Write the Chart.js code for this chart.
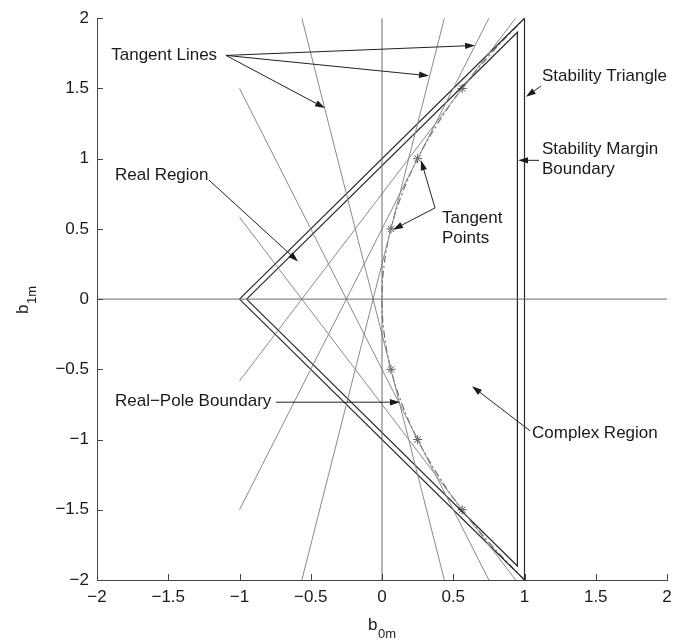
<!DOCTYPE html>
<html lang="en">
<head>
<meta charset="UTF-8">
<title>Stability Triangle</title>
<script src="https://cdn.jsdelivr.net/npm/chart.js"></script>
<style>
    body { margin: 0; background: #fff; }
    canvas { display: block; }
</style>
</head>
<body>
<canvas id="chart_region" width="694" height="643"></canvas>
<script>
// Stability triangle and margin boundary (b0m, b1m), closed outlines
const triangleB0 = [-1, 1, 1, -1];
const triangleB1 = [0, 2, -2, 0];
const marginB0 = [-0.95, 0.95, 0.95, -0.95];
const marginB1 = [0, 1.9, -1.9, 0];

// Real-pole boundary
const boundaryB1 = [-2, -1.75, -1.5, -1.25, -1, -0.75, -0.5, -0.25, 0, 0.25, 0.5, 0.75, 1, 1.25, 1.5, 1.75, 2];
const boundaryB0 = [1, 0.766, 0.5625, 0.391, 0.25, 0.141, 0.0625, 0.016, 0, 0.016, 0.0625, 0.141, 0.25, 0.391, 0.5625, 0.766, 1];

// Tangent lines, one segment each
const tangentFromB0 = [-1, -1, -0.5625, 0.4375, 0.75, 0.9375];
const tangentFromB1 = [0.583, 1.5, 2, 2, 2, 2];
const tangentToB0 = [0.9375, 0.75, 0.4375, -0.5625, -1, -1];
const tangentToB1 = [-2, -2, -2, -2, -1.5, -0.583];

// Tangent points (asterisks)
const pointB0 = [0.5625, 0.25, 0.0625, 0.0625, 0.25, 0.5625];
const pointB1 = [1.5, 1, 0.5, -0.5, -1, -1.5];

// Axis ticks
const tickValues = [-2, -1.5, -1, -0.5, 0, 0.5, 1, 1.5, 2];

// Annotations (text left edge / middle, in data units)
const labelText = ['Tangent Lines', 'Stability Triangle', 'Stability Margin\nBoundary', 'Real Region',
                   'Tangent\nPoints', 'Real\u2212Pole Boundary', 'Complex Region'];
const labelB0 = [-1.9, 1.123, 1.123, -1.874, 0.421, -1.874, 1.053];
const labelB1 = [1.735, 1.587, 1.065, 0.882, 0.578, -0.727, -0.959];

// Arrows from the labels to what they name
const arrowFromB0 = [-1.095, -1.095, -1.095, 1.116, 1.102, -1.214, 0.372, 0.372, -0.744, 1.039];
const arrowFromB1 = [1.735, 1.735, 1.735, 1.517, 0.988, 0.847, 0.649, 0.649, -0.734, -0.938];
const arrowToB0 = [0.653, 0.33, -0.4, 1.01, 0.955, -0.589, 0.274, 0.077, 0.126, 0.632];
const arrowToB1 = [1.806, 1.59, 1.36, 1.44, 0.988, 0.268, 0.988, 0.494, -0.734, -0.621];

const FONT = '"Liberation Sans", Arial, sans-serif';
const zip = (xs, ys) => xs.map((v, i) => ({ x: v, y: ys[i] }));
const fmt = v => (v < 0 ? '\u2212' + Math.abs(v) : String(v));

const datasets = [
    { data: [{ x: 0, y: -2 }, { x: 0, y: 2 }], borderColor: '#6a6a6a', borderWidth: 1 },
    { data: [{ x: -2, y: 0 }, { x: 2, y: 0 }], borderColor: '#6a6a6a', borderWidth: 1 }
];
tangentFromB0.forEach((b0, i) => {
    datasets.push({
        data: [{ x: b0, y: tangentFromB1[i] }, { x: tangentToB0[i], y: tangentToB1[i] }],
        borderColor: '#8a8a8a', borderWidth: 1
    });
});
datasets.push({ data: zip(triangleB0, triangleB1), borderColor: '#2a2a2a', borderWidth: 1.2 });
datasets.push({ data: zip(marginB0, marginB1), borderColor: '#2a2a2a', borderWidth: 1.2 });
datasets.push({ data: zip(boundaryB0, boundaryB1), borderColor: '#707070', borderWidth: 1.2,
                borderDash: [7, 3, 2, 3], tension: 0.4 });
datasets.push({ data: zip(pointB0, pointB1), showLine: false, pointStyle: 'star', pointRadius: 4.5,
                pointBorderColor: '#555', pointBorderWidth: 1 });
datasets.forEach(d => {
    if (d.showLine === undefined) d.showLine = true;
    if (d.pointRadius === undefined) d.pointRadius = 0;
    d.fill = false;
});

// Inward tick marks on the left and bottom axes
const tickPlugin = {
    id: 'inwardTicks',
    afterDraw(chart) {
        const { ctx, chartArea: a, scales: { x, y } } = chart;
        ctx.save();
        ctx.strokeStyle = '#444';
        ctx.lineWidth = 1;
        ctx.beginPath();
        tickValues.forEach(v => {
            const px = Math.round(x.getPixelForValue(v)) + 0.5;
            ctx.moveTo(px, a.bottom); ctx.lineTo(px, a.bottom - 6);
            const py = Math.round(y.getPixelForValue(v)) + 0.5;
            ctx.moveTo(a.left, py); ctx.lineTo(a.left + 6, py);
        });
        ctx.stroke();
        ctx.restore();
    }
};

// Axis titles with subscripts
const titlePlugin = {
    id: 'subTitles',
    afterDraw(chart) {
        const { ctx, chartArea: a } = chart;
        const cx = (a.left + a.right) / 2;
        ctx.save();
        ctx.fillStyle = '#1a1a1a';
        ctx.textBaseline = 'alphabetic';
        ctx.textAlign = 'left';
        ctx.font = '17px ' + FONT;
        ctx.fillText('b', cx - 14, a.bottom + 50);
        ctx.font = '13px ' + FONT;
        ctx.fillText('0m', cx - 4, a.bottom + 58);
        ctx.translate(28, (a.top + a.bottom) / 2);
        ctx.rotate(-Math.PI / 2);
        ctx.font = '17px ' + FONT;
        ctx.fillText('b', -15, 0);
        ctx.font = '13px ' + FONT;
        ctx.fillText('1m', -5, 8);
        ctx.restore();
    }
};

// Text labels and arrows
const annotationPlugin = {
    id: 'annotations',
    afterDraw(chart) {
        const { ctx, scales: { x, y } } = chart;
        ctx.save();
        ctx.fillStyle = '#1a1a1a';
        ctx.font = '17px ' + FONT;
        ctx.textBaseline = 'middle';
        ctx.textAlign = 'left';
        labelText.forEach((txt, i) => {
            const px = x.getPixelForValue(labelB0[i]);
            const py = y.getPixelForValue(labelB1[i]);
            txt.split('\n').forEach((line, k) => ctx.fillText(line, px, py + k * 20));
        });
        ctx.strokeStyle = '#222';
        ctx.lineWidth = 1;
        arrowFromB0.forEach((b0, i) => {
            const x0 = x.getPixelForValue(b0), y0 = y.getPixelForValue(arrowFromB1[i]);
            const x1 = x.getPixelForValue(arrowToB0[i]), y1 = y.getPixelForValue(arrowToB1[i]);
            const ang = Math.atan2(y1 - y0, x1 - x0);
            const len = 10, half = 3.2;
            const bx = x1 - len * Math.cos(ang), by = y1 - len * Math.sin(ang);
            ctx.beginPath();
            ctx.moveTo(x0, y0); ctx.lineTo(bx, by);
            ctx.stroke();
            ctx.beginPath();
            ctx.moveTo(x1, y1);
            ctx.lineTo(bx + half * Math.sin(ang), by - half * Math.cos(ang));
            ctx.lineTo(bx - half * Math.sin(ang), by + half * Math.cos(ang));
            ctx.closePath();
            ctx.fill();
        });
        ctx.restore();
    }
};

const axisOpts = {
    type: 'linear', min: -2, max: 2,
    grid: { display: false, drawTicks: false },
    border: { display: true, color: '#444', width: 1 },
    ticks: {
        stepSize: 0.5, padding: 8, color: '#1a1a1a',
        font: { family: FONT, size: 17 },
        callback: v => fmt(v)
    }
};

new Chart(document.getElementById('chart_region').getContext('2d'), {
    type: 'scatter',
    data: { datasets },
    options: {
        responsive: false,
        animation: false,
        layout: { padding: { left: 0, right: 27, top: 13, bottom: 0 } },
        plugins: { legend: { display: false }, tooltip: { enabled: false } },
        scales: {
            x: Object.assign({}, axisOpts, {
                ticks: Object.assign({}, axisOpts.ticks, { padding: 7 }),
                afterFit: s => { s.height = 63; }
            }),
            y: Object.assign({}, axisOpts, { afterFit: s => { s.width = 97; } })
        }
    },
    plugins: [tickPlugin, titlePlugin, annotationPlugin]
});
</script>
</body>
</html>
